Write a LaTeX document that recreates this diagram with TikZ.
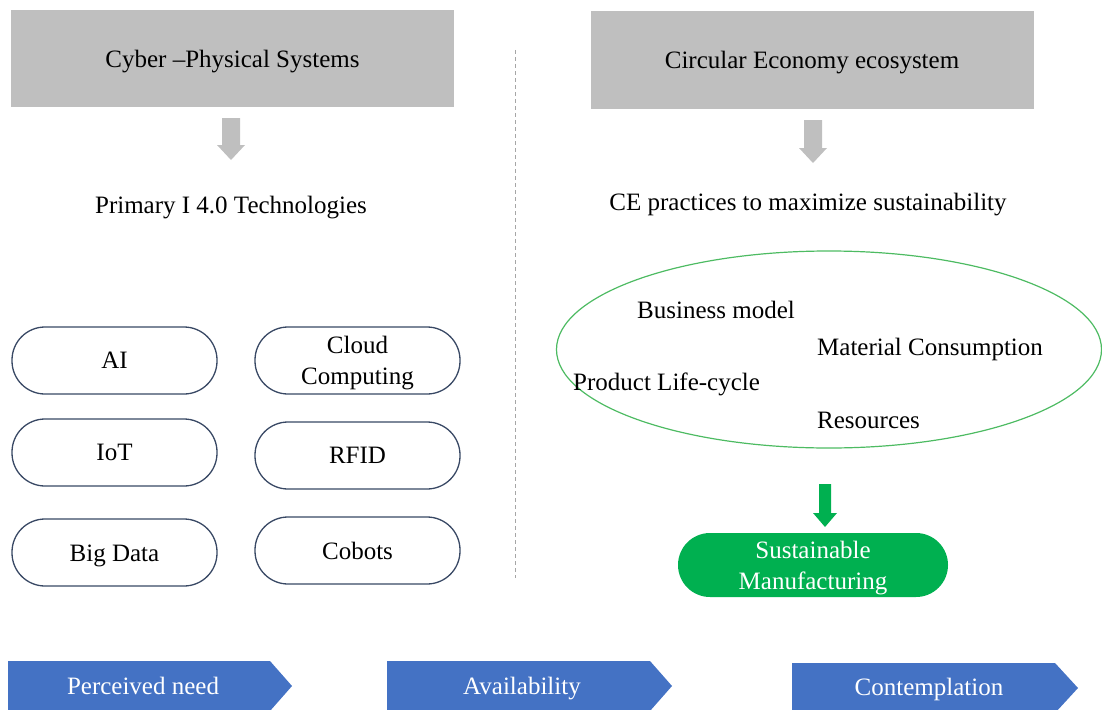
\documentclass[tikz,border=0pt]{standalone}
\usepackage{fontspec}
\setmainfont{Liberation Serif}
\usetikzlibrary{shapes.geometric}
\definecolor{boxgray}{HTML}{BFBFBF}
\definecolor{pillline}{RGB}{56,72,100}
\definecolor{ringgreen}{HTML}{4DBB62}
\definecolor{solidgreen}{HTML}{00B050}
\definecolor{stageblue}{HTML}{4472C4}
\definecolor{divider}{HTML}{A6A6A6}
\newcommand{\lowered}[1]{\raisebox{-3pt}[\height][\depth]{#1}}
\tikzset{
  bigtext/.style={font=\fontsize{25}{31}\selectfont},
  headbox/.style={fill=boxgray, minimum width=443, minimum height=97, inner sep=0, text depth=0, bigtext},
  techpill/.style={draw=pillline, line width=1.3, rounded corners=33, minimum width=205, minimum height=67, inner sep=0, align=center, bigtext},
  plain/.style={inner sep=0, bigtext},
  stagetext/.style={inner sep=0, text=white, bigtext},
  stagefill/.style={fill=stageblue},
}
\begin{document}
\begin{tikzpicture}[x=1pt,y=-1pt]
\useasboundingbox (0,0) rectangle (1102,709);

% headers
\node[headbox] (cps) at (232.5,58.5) {Cyber –Physical Systems};
\node[headbox] (ce) at (812,60) {Circular Economy ecosystem};

% grey block arrows
\fill[boxgray] (222,118) -- (240,118) -- (240,145) -- (245,145) -- (231,160) -- (217,145) -- (222,145) -- cycle;
\fill[boxgray] (804,120) -- (822,120) -- (822,148) -- (827,148) -- (813,163) -- (799,148) -- (804,148) -- cycle;

\node[plain] (tech) at (231,208) {Primary I 4.0 Technologies};
\node[plain] (prac) at (808,205) {CE practices to maximize sustainability};

% divider
\draw[divider, line width=0.8, dash pattern=on 4 off 3] (515,50) -- (515,578);

% technology pills
\node[techpill] (ai) at (114.5,360.5) {AI};
\node[techpill] (cloud) at (357.5,360.5) {\lowered{\parbox{180pt}{\centering Cloud\\Computing}}};
\node[techpill] (iot) at (114.5,452.5) {IoT};
\node[techpill] (rfid) at (357.5,455.5) {RFID};
\node[techpill] (bigdata) at (114.5,552.5) {\lowered{Big Data}};
\node[techpill] (cobots) at (357.5,550.5) {Cobots};

% practices ring
\node[ellipse, draw=ringgreen, line width=1.2, minimum width=545, minimum height=197, inner sep=0] (ring) at (829,349.5) {};
\node[plain] (bm) at (716,310) {Business model};
\node[plain, anchor=west] (mc) at (817,349) {Material Consumption};
\node[plain, anchor=west] (plc) at (573,384) {Product Life-cycle};
\node[plain, anchor=west] (res) at (817,420) {Resources};

% green arrow and outcome
\fill[solidgreen] (819,484) -- (831,484) -- (831,513) -- (837,513) -- (825,527) -- (813,513) -- (819,513) -- cycle;
\node[fill=solidgreen, rounded corners=32, minimum width=270, minimum height=64, inner sep=0, text=white, bigtext] (sm) at (813,565) {\lowered{\parbox{260pt}{\centering Sustainable\\Manufacturing}}};

% stage chevrons
\fill[stagefill] (8,661) -- (270,661) -- (292,686) -- (270,711) -- (8,711) -- cycle;
\fill[stagefill] (387,661) -- (650,661) -- (672,686) -- (650,711) -- (387,711) -- cycle;
\fill[stagefill] (792,663) -- (1055,663) -- (1078,688) -- (1055,713) -- (792,713) -- cycle;
\node[stagetext] (need) at (143,686) {Perceived need};
\node[stagetext] (avail) at (522,689) {Availability};
\node[stagetext] (cont) at (929,689) {Contemplation};
\end{tikzpicture}
\end{document}
